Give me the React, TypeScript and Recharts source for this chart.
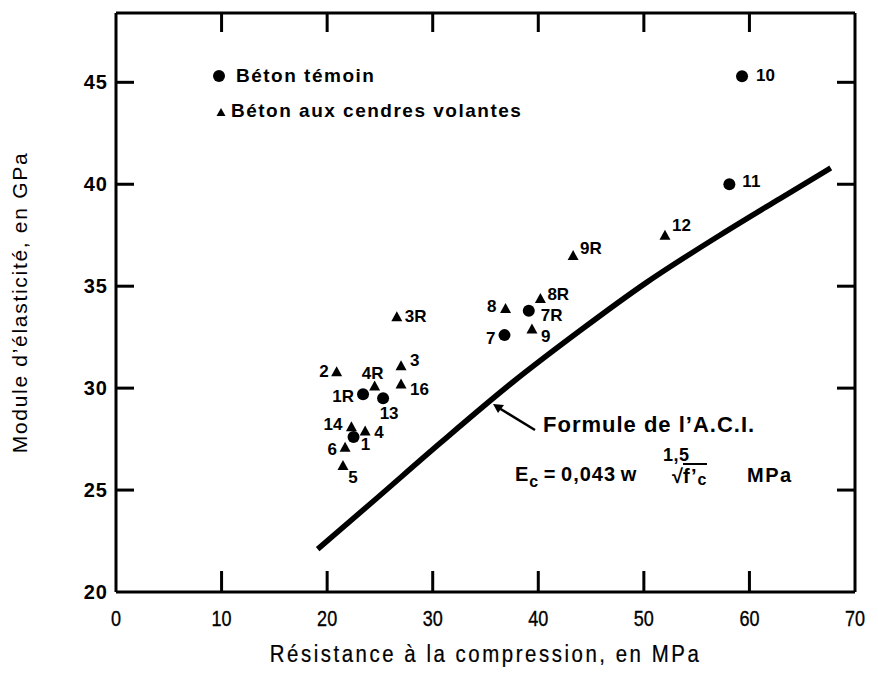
import React from "react";
import { ScatterChart, Scatter, XAxis, YAxis } from "recharts";

// Béton témoin (control concrete)
const controlIds = ["1", "1R", "13", "7", "7R", "11", "10"];
const controlStrength = [22.5, 23.4, 25.3, 36.8, 39.1, 58.1, 59.3];
const controlModulus = [27.6, 29.7, 29.5, 32.6, 33.8, 40.0, 45.3];

// Béton aux cendres volantes (fly ash concrete)
const flyAshIds = ["2", "3R", "3", "4R", "16", "14", "4", "6", "5", "8", "8R", "9", "9R", "12"];
const flyAshStrength = [20.9, 26.6, 27.0, 24.5, 27.0, 22.3, 23.6, 21.7, 21.5, 36.9, 40.2, 39.4, 43.3, 52.0];
const flyAshModulus = [30.8, 33.5, 31.1, 30.1, 30.2, 28.1, 27.9, 27.1, 26.2, 33.9, 34.4, 32.9, 36.5, 37.5];

// ACI formula curve
const aciStrength = [19.1, 24.7, 30.7, 37.6, 43.9, 50.3, 57.2, 62.9, 67.7];
const aciModulus = [22.1, 24.6, 27.3, 30.3, 32.8, 35.2, 37.5, 39.3, 40.8];

const xTicks = [0, 10, 20, 30, 40, 50, 60, 70];
const yTicks = [20, 25, 30, 35, 40, 45];

const X_DOMAIN: [number, number] = [0, 70];
const Y_DOMAIN: [number, number] = [20, 48.4];

// chart geometry (matches the margins and axis sizes below)
const CHART_W = 862;
const CHART_H = 665;
const MARGIN = { top: 5, right: 15, bottom: 7, left: 0 };
const Y_AXIS_W = 108;
const X_AXIS_H = 74;
const PLOT_X = MARGIN.left + Y_AXIS_W;
const PLOT_Y = MARGIN.top;
const PLOT_W = CHART_W - MARGIN.right - PLOT_X;
const PLOT_H = CHART_H - MARGIN.bottom - X_AXIS_H - PLOT_Y;

const helv = "'Liberation Sans', Arial, Helvetica, sans-serif";

// label placement next to each marker: dx, dy, anchor
const labelPos: Record<string, [number, number, "start" | "middle" | "end"]> = {
  "1": [12, 7, "middle"],
  "1R": [-9, 2, "end"],
  "13": [6, 15, "middle"],
  "7": [-9, 3, "end"],
  "7R": [12, 5, "start"],
  "11": [13, -3, "start"],
  "10": [14, -1, "start"],
  "2": [-8, 0, "end"],
  "3R": [8, 0, "start"],
  "3": [9, -5, "start"],
  "4R": [-2, -13, "middle"],
  "16": [9, 5, "start"],
  "14": [-9, -2, "end"],
  "4": [9, 2, "start"],
  "6": [-8, 2, "end"],
  "5": [10, 12, "middle"],
  "8": [-9, -2, "end"],
  "8R": [7, -4, "start"],
  "9": [9, 7, "start"],
  "9R": [7, -7, "start"],
  "12": [7, -10, "start"],
};

const controlData = controlIds.map((id, i) => ({ id, x: controlStrength[i], y: controlModulus[i] }));
const flyAshData = flyAshIds.map((id, i) => ({ id, x: flyAshStrength[i], y: flyAshModulus[i] }));
const aciData = aciStrength.map((x, i) => ({ x, y: aciModulus[i] }));

function PointLabel({ cx, cy, id }: { cx: number; cy: number; id: string }) {
  const [dx, dy, anchor] = labelPos[id] ?? [8, 0, "start"];
  return (
    <text x={cx + dx} y={cy + dy} textAnchor={anchor} dominantBaseline="central"
      fontSize={17} fontWeight={700} fontFamily={helv} fill="#000">
      {id}
    </text>
  );
}

function ControlDot(props: any) {
  const { cx, cy, payload } = props;
  return (
    <g>
      <circle cx={cx} cy={cy} r={6} fill="#000" />
      <PointLabel cx={cx} cy={cy} id={payload.id} />
    </g>
  );
}

function FlyAshTriangle(props: any) {
  const { cx, cy, payload } = props;
  return (
    <g>
      <polygon points={`${cx},${cy - 5.5} ${cx + 5.5},${cy + 4.5} ${cx - 5.5},${cy + 4.5}`} fill="#000" />
      <PointLabel cx={cx} cy={cy} id={payload.id} />
    </g>
  );
}

// condensed tick labels of the bottom axis
function XTick(props: any) {
  const { x, y, payload } = props;
  return (
    <g transform={`translate(${x},${y})`}>
      <text transform="scale(0.82,1)" textAnchor="middle" dy="0.71em" fontSize={22}
        fontFamily={helv} fill="#000" stroke="#000" strokeWidth={0.35}>
        {payload.value}
      </text>
    </g>
  );
}

function XTitle(props: any) {
  const { viewBox } = props;
  const cx = viewBox.x + viewBox.width / 2;
  const y = viewBox.y + viewBox.height - 4;
  return (
    <g transform={`translate(${cx},${y})`}>
      <text transform="scale(0.85,1)" textAnchor="middle" fontSize={24} letterSpacing={3}
        fontFamily={helv} fill="#000" stroke="#000" strokeWidth={0.25}>
        Résistance à la compression, en MPa
      </text>
    </g>
  );
}

// inward tick marks on the four sides of the frame, at the axis tick values
function FrameTicks() {
  const sx = (v: number) => PLOT_X + ((v - X_DOMAIN[0]) / (X_DOMAIN[1] - X_DOMAIN[0])) * PLOT_W;
  const sy = (v: number) => PLOT_Y + ((Y_DOMAIN[1] - v) / (Y_DOMAIN[1] - Y_DOMAIN[0])) * PLOT_H;
  const innerX = xTicks.filter((t) => t > X_DOMAIN[0] && t < X_DOMAIN[1]);
  const innerY = yTicks.filter((t) => t > Y_DOMAIN[0] && t < Y_DOMAIN[1]);
  const bottom = PLOT_Y + PLOT_H;
  const right = PLOT_X + PLOT_W;
  return (
    <svg style={{ position: "absolute", left: 0, top: 0, pointerEvents: "none" }} width={CHART_W} height={CHART_H}>
      <g fill="#000">
        {innerX.map((t) => <rect key={`b${t}`} x={sx(t) - 1.5} y={bottom - 21} width={3} height={21} />)}
        {innerX.map((t) => <rect key={`t${t}`} x={sx(t) - 1.5} y={PLOT_Y} width={3} height={19} />)}
        {innerY.map((t) => <rect key={`l${t}`} x={PLOT_X} y={sy(t) - 1.5} width={18} height={3} />)}
        {innerY.map((t) => <rect key={`r${t}`} x={right - 18} y={sy(t) - 1.5} width={18} height={3} />)}
      </g>
    </svg>
  );
}

const noShape = () => <g />;

// text placed by its left edge and cap-height centre, in page pixels
function Note({ x, y, size, children, weight = 700, spacing = 1.5, lh = 1.2, style }: any) {
  return (
    <div style={{
      position: "absolute", left: x - 8, top: y - 8 - size * (lh / 2), fontSize: size,
      lineHeight: `${size * lh}px`, fontWeight: weight, letterSpacing: spacing,
      fontFamily: helv, whiteSpace: "nowrap", color: "#000", ...style,
    }}>
      {children}
    </div>
  );
}

const axisLineStyle = { stroke: "#000", strokeWidth: 3 };

export default function App() {
  return (
    <div style={{ position: "relative", width: CHART_W, height: CHART_H, background: "#fff" }}>
      <ScatterChart width={CHART_W} height={CHART_H} margin={MARGIN}>
        <XAxis
          dataKey="x" type="number" domain={X_DOMAIN} ticks={xTicks} allowDataOverflow
          height={X_AXIS_H} tickLine={false} tickSize={6} tickMargin={12} axisLine={axisLineStyle}
          tick={<XTick />}
          label={{ position: "insideBottom", content: <XTitle /> }}
        />
        <XAxis xAxisId="top" orientation="top" type="number" domain={X_DOMAIN} ticks={xTicks} allowDataOverflow
          mirror height={1} tick={false} tickLine={false} axisLine={axisLineStyle} />
        <YAxis
          dataKey="y" type="number" domain={Y_DOMAIN} ticks={yTicks} allowDataOverflow
          width={Y_AXIS_W} tickLine={false} axisLine={axisLineStyle}
          tick={{ fill: "#000", fontSize: 20, fontWeight: 700, fontFamily: helv, letterSpacing: 1 }}
          label={{ value: "Module d’élasticité, en GPa", angle: -90, position: "insideLeft", offset: 12,
            fill: "#000", fontSize: 21, fontFamily: helv, letterSpacing: 1.7, style: { textAnchor: "middle" } }}
        />
        <YAxis yAxisId="right" orientation="right" type="number" domain={Y_DOMAIN} ticks={yTicks} allowDataOverflow
          mirror width={1} tick={false} tickLine={false} axisLine={axisLineStyle} />

        <Scatter data={aciData} line={{ stroke: "#000", strokeWidth: 5.5 }} lineJointType="monotoneX"
          shape={noShape} isAnimationActive={false} />
        <Scatter data={controlData} shape={ControlDot} isAnimationActive={false} />
        <Scatter data={flyAshData} shape={FlyAshTriangle} isAnimationActive={false} />
      </ScatterChart>

      <FrameTicks />

      {/* legend */}
      <div style={{ position: "absolute", left: 219 - 8 - 6, top: 76 - 8 - 6, width: 12, height: 12, borderRadius: "50%", background: "#000" }} />
      <Note x={236} y={76} size={19}>Béton témoin</Note>
      <svg style={{ position: "absolute", left: 221 - 8 - 5, top: 112 - 8 - 5 }} width={10} height={10}>
        <polygon points="5,1 9.5,9 0.5,9" fill="#000" />
      </svg>
      <Note x={231} y={111} size={19}>Béton aux cendres volantes</Note>

      {/* ACI annotation */}
      <svg style={{ position: "absolute", left: 0, top: 0, pointerEvents: "none" }} width={CHART_W} height={CHART_H}>
        <line x1={535 - 8} y1={430 - 8} x2={499 - 8} y2={408 - 8} stroke="#000" strokeWidth={2.5} />
        <polygon points={`${493 - 8},${404 - 8} ${504 - 8},${405 - 8} ${498 - 8},${413 - 8}`} fill="#000" />
      </svg>
      <Note x={543} y={425} size={22} spacing={1}>Formule de l’A.C.I.</Note>
      <Note x={515} y={474} size={20} spacing={1} style={{ wordSpacing: -2 }}>
        E<span style={{ fontSize: 16, position: "relative", top: 6 }}>c</span> = 0,043 w
      </Note>
      <Note x={663} y={455} size={18} spacing={0.5} lh={1}>1,5</Note>
      <Note x={672} y={476} size={20} spacing={0} lh={1}>
        √<span style={{ borderTop: "2px solid #000", letterSpacing: 1 }}>f’<span style={{ fontSize: 16, position: "relative", top: 2 }}>c</span></span>
      </Note>
      <Note x={747} y={475} size={20}>MPa</Note>
    </div>
  );
}
